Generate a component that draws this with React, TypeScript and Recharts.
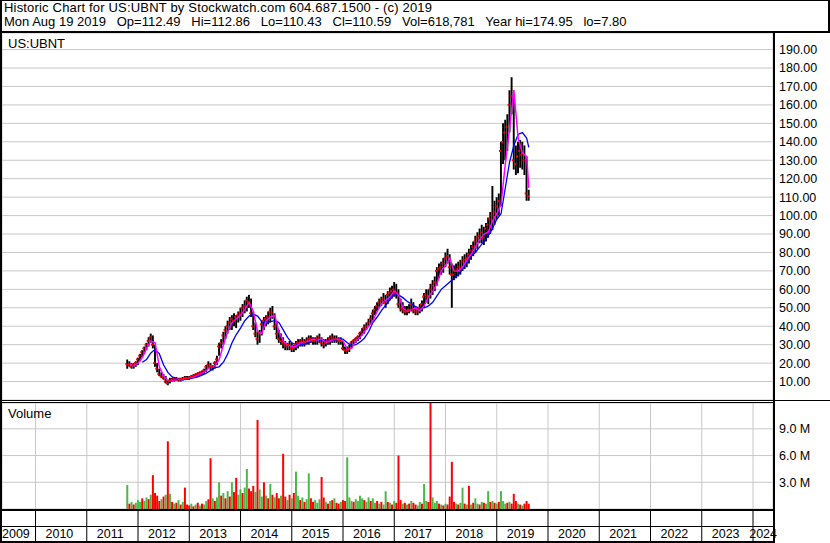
import React from "react";
import {
  ComposedChart,
  Bar,
  Line,
  Scatter,
  XAxis,
  YAxis,
  CartesianGrid,
  Cell,
} from "recharts";

// half-month bars, from the 2nd half of Oct 2011 to the 2nd half of Aug 2019
const FIRST_YEAR = 2011;
const FIRST_MONTH = 9.5;

const priceHi = [
  22, 21, 20, 20, 21,
  23, 25, 27, 29, 31, 34, 36, 35, 30, 20, 17, 15, 14, 13, 11, 12, 12, 12.5, 12.5, 12, 12, 12.5, 13, 13,
  13, 13.5, 14, 14.5, 15, 15.5, 16, 17, 19, 21, 20, 19, 21, 24, 31, 33, 37, 40, 43, 45, 46, 47, 46, 48,
  50, 52, 54, 56, 57, 55, 48, 42, 37, 38, 43, 45, 46, 48, 50, 51, 47, 42, 38, 36, 34, 32, 31, 32,
  31, 30, 32, 33, 33, 34, 33, 34, 35, 35, 34, 34, 35, 36, 34, 33, 33, 34, 35, 36, 35, 35, 34, 34,
  32, 29, 29, 30, 32, 33, 34, 35, 37, 39, 41, 42, 44, 46, 49, 51, 53, 55, 56, 58, 57, 59, 61, 62,
  64, 63, 60, 55, 53, 51, 51, 52, 55, 53, 51, 50, 52, 54, 58, 60, 60, 63, 65, 67, 72, 74, 75, 77,
  80, 82, 79, 74, 73, 74, 75, 76, 78, 79, 80, 82, 84, 86, 89, 91, 93, 95, 94, 96, 99, 102, 116, 108,
  110, 112, 140, 150, 152, 155, 168, 175, 165, 138, 140, 141, 140, 138, 132, 114,
];

const priceLo = [
  17, 18, 17, 17, 18,
  19, 21, 23, 25, 27, 29, 31, 28, 18, 15, 13, 12, 11, 9, 8, 9, 10, 10, 10.5, 10, 10, 10.5, 11, 11,
  11, 11.5, 12, 12, 12.5, 13, 13.5, 14, 15, 17, 16, 16, 17, 19, 24, 28, 30, 33, 36, 38, 38, 40, 39, 42,
  43, 45, 47, 48, 50, 45, 38, 34, 30, 31, 35, 38, 40, 41, 42, 44, 38, 33, 31, 30, 28, 27, 27, 27,
  26, 26, 27, 28, 29, 29, 29, 30, 30, 31, 30, 30, 30, 31, 29, 28, 29, 30, 30, 31, 31, 31, 30, 30,
  27, 25, 25, 26, 28, 30, 31, 32, 33, 35, 36, 38, 40, 41, 43, 46, 48, 50, 51, 52, 50, 52, 54, 55,
  56, 55, 50, 48, 47, 46, 46, 47, 48, 47, 46, 46, 47, 48, 50, 53, 52, 55, 57, 59, 62, 66, 68, 69,
  72, 74, 68, 50, 65, 66, 67, 68, 70, 71, 72, 74, 76, 78, 80, 82, 85, 85, 84, 86, 88, 90, 92, 95,
  98, 100, 105, 128, 130, 135, 145, 155, 125, 122, 123, 126, 125, 122, 108, 108,
];

const priceCl = [
  19.5, 19, 18, 19, 20,
  22, 24, 26, 28, 30, 32, 34, 30, 20, 17, 14, 13, 12, 10, 9, 10.5, 11, 11.5, 11, 11, 11.5, 11.5, 12, 12,
  12, 12.5, 13, 13.5, 14, 14.5, 15, 16, 18, 19, 18, 18, 20, 22, 29, 31, 35, 38, 40, 42, 44, 43, 45, 46,
  47, 50, 51, 54, 53, 47, 40, 36, 33, 36, 41, 43, 44, 45, 48, 47, 40, 36, 33, 32, 31, 30, 29, 30,
  28, 28, 30, 31, 31, 32, 31, 32, 33, 33, 32, 32, 33, 34, 31, 30, 31, 32, 33, 34, 33, 33, 32, 32,
  28, 27, 27, 28, 31, 32, 33, 34, 36, 37, 39, 40, 42, 44, 47, 49, 51, 53, 54, 55, 53, 57, 58, 59,
  60, 58, 52, 50, 49, 48, 48, 49, 52, 49, 48, 48, 50, 52, 56, 57, 56, 60, 62, 64, 70, 71, 72, 74,
  77, 78, 72, 68, 68, 70, 71, 72, 75, 76, 77, 79, 81, 83, 86, 88, 89, 91, 88, 93, 95, 98, 100, 102,
  105, 108, 135, 140, 145, 148, 160, 165, 130, 128, 132, 135, 133, 130, 112, 110.6,
];

// volume in millions
const volumeM = [
  2.7, 0.6, 0.8, 0.5, 0.7,
  1.0, 0.8, 1.2, 0.9, 1.3, 1.1, 1.6, 3.8, 1.8, 1.5, 0.9, 1.1, 1.4, 1.6, 7.6, 1.7, 0.8, 0.6, 0.7, 1.0, 0.5, 0.8, 2.4, 0.5,
  0.4, 0.6, 0.3, 0.5, 0.7, 0.4, 0.6, 0.5, 0.9, 1.1, 5.7, 1.2, 0.9, 1.3, 3.0, 1.5, 1.8, 1.2, 2.0, 1.4, 3.0, 1.9, 3.5, 1.6,
  2.2, 1.8, 2.4, 4.5, 2.3, 2.0, 2.6, 1.9, 10.0, 2.2, 1.4, 3.0, 1.5, 1.2, 2.8, 1.6, 1.3, 1.8, 1.2, 1.5, 6.2, 1.4, 1.0, 1.6,
  1.2, 1.8, 4.2, 1.5, 1.0, 1.3, 0.8, 1.1, 4.0, 1.2, 0.8, 1.0, 0.7, 1.1, 3.6, 1.3, 0.8, 0.6, 0.9, 1.0, 1.2, 0.7, 0.6, 0.8,
  1.0, 0.9, 5.8, 1.3, 0.9, 0.8, 1.1, 0.9, 1.5, 1.2, 1.0, 0.8, 1.3, 0.9, 1.2, 0.7, 0.9, 0.6, 0.8, 0.5, 2.0, 0.8, 0.7, 0.5,
  0.9, 0.7, 6.0, 1.0, 0.6, 0.7, 0.5, 0.6, 0.9, 0.7, 0.5, 0.4, 0.8, 0.6, 2.8, 0.9, 0.8, 12.2, 1.3, 0.7, 0.9, 0.6, 0.5, 0.4,
  0.6, 0.5, 1.4, 5.3, 0.8, 0.6, 0.5, 0.7, 2.4, 0.6, 0.5, 2.6, 0.5, 0.7, 1.2, 0.6, 0.5, 0.8, 0.7, 0.6, 2.0, 0.8, 0.9, 0.7,
  0.6, 0.8, 2.0, 0.9, 0.6, 0.7, 0.8, 0.6, 1.7, 0.9, 0.6, 0.5, 0.4, 0.6, 0.9, 0.6,
];

// g = up (green), d = down (red)
const volumeDir = [
  "gdgdg",
  "ggdggdgddddgdgdgdgdgdgdd",
  "dgdgdgdggddgdggdgdgdgddg",
  "gdggdddgdggdgdgdgddgddgd",
  "gdggdgdggddgggddgdgdgddg",
  "ddgggdggggdggdggdgdggdgd",
  "gdddgdgdgddggdggddgggdgd",
  "gddddgdggdgdgdggdgdggdgd",
  "gdgggdgdddgdgddd",
].join("");

// moving averages read monthly, Nov 2011 .. Aug 2019, last value on Aug 19 2019
const maShort = [
  19.5, 18.5,
  20, 23, 28, 32, 31, 18, 13, 10.5, 10.5, 11.2, 11, 11.5,
  12, 12.5, 13.5, 14.5, 16, 18.5, 18.5, 22, 30, 37, 42, 44,
  46, 49, 53, 48, 37, 36, 43, 45, 46, 37, 32, 30,
  29, 29, 31, 31.5, 32, 33, 32.5, 33, 31, 32, 33, 33,
  32, 27.5, 28, 32, 34, 37, 40, 43, 48, 52, 54, 56,
  59, 57, 50, 48, 49, 50, 48.5, 51, 56, 59, 63, 70,
  73, 77, 70, 70, 72, 76, 79, 83, 87, 90, 91, 97,
  101, 106, 128, 147, 168, 142, 134, 132, 115,
];

const maLong = [
  null, null,
  null, 20.5, 22, 25.5, 27.5, 25, 19, 15, 12.5, 11.5, 11, 11,
  11.5, 12, 12.5, 13.5, 14.5, 16, 17.5, 18, 20.5, 25, 31, 35.5,
  39, 43, 45.5, 46.5, 45.5, 42.5, 42, 42.5, 43, 42, 38, 34,
  31, 30, 30, 30.5, 31, 32, 32.5, 32.5, 32, 32, 32.5, 33,
  33, 31, 29.5, 30, 31.5, 33.5, 37, 42, 45, 48.5, 51.5, 54.5,
  57, 57, 55.5, 53.5, 52, 50.5, 50, 50, 51, 53, 56.5, 60,
  62, 64, 66, 68, 71, 75, 78, 80, 83, 86, 89, 93,
  98, 101, 115, 129, 138, 144, 145, 142, 137,
];

const yearTicks = [2010, 2011, 2012, 2013, 2014, 2015, 2016, 2017, 2018, 2019, 2020, 2021, 2022, 2023, 2024];
const priceTicks = [10, 20, 30, 40, 50, 60, 70, 80, 90, 100, 110, 120, 130, 140, 150, 160, 170, 180, 190];
const volumeTicks = [3, 6, 9];

const X_DOMAIN: [number, number] = [2009.346, 2024.39];
const FONT = "Arial, 'Liberation Sans', sans-serif";
const GRID = "#c8c8c8";
const UP = "#4cb848";
const DOWN = "#ff0000";

const rows = priceHi.map((hi, i) => {
  const k = i % 2 === 1 ? (i - 1) / 2 : i === priceHi.length - 1 ? maShort.length - 1 : -1;
  return {
    t: FIRST_YEAR + (FIRST_MONTH + i / 2) / 12,
    range: [priceLo[i], hi],
    cl: priceCl[i],
    vol: volumeM[i],
    up: volumeDir[i] === "g",
    maShort: k >= 0 ? maShort[k] : null,
    maLong: k >= 0 ? maLong[k] : null,
  };
});

const CloseMark = (p: any) => (
  <rect x={p.cx - 2} y={p.cy - 1} width={2} height={2} fill={DOWN} />
);

function YearTick(props: any) {
  const { x, y, payload, index } = props;
  const last = index === yearTicks.length - 1;
  const style = { fontSize: 12.5, fontFamily: FONT, fill: "#000" };
  return (
    <g>
      <line x1={x} x2={x} y1={y} y2={y + 34} stroke="#000" />
      {index === 0 && (
        <text x={2} y={y + 29} {...style}>
          {payload.value - 1}
        </text>
      )}
      <text x={last ? 777 : x + 10} y={y + 29} textAnchor={last ? "end" : "start"} {...style}>
        {payload.value}
      </text>
    </g>
  );
}

const hLine = (top: number, left: number, width: number, h = 1) => (
  <div style={{ position: "absolute", top, left, width, height: h, background: "#000" }} />
);
const vLine = (left: number, top: number, height: number, w = 1) => (
  <div style={{ position: "absolute", top, left, width: w, height, background: "#000" }} />
);

export default function App() {
  const tickStyle = { fontSize: 12.5, fontFamily: FONT, fill: "#000" };
  return (
    <div style={{ position: "relative", width: 830, height: 543, background: "#fff", fontFamily: FONT, overflow: "hidden" }}>
      <style>{`body{margin:0}`}</style>

      <div style={{ position: "absolute", top: 1, left: 4, fontSize: 13, lineHeight: "14px", whiteSpace: "pre", letterSpacing: 0.18 }}>
        {"Historic Chart for US:UBNT by Stockwatch.com 604.687.1500 - (c) 2019"}
      </div>
      <div style={{ position: "absolute", top: 15, left: 4, fontSize: 13, lineHeight: "14px", whiteSpace: "pre" }}>
        {"Mon Aug 19 2019   Op=112.49   Hi=112.86   Lo=110.43   Cl=110.59   Vol=618,781   Year hi=174.95   lo=7.80"}
      </div>

      <div style={{ position: "absolute", top: 33, left: 0 }}>
        <ComposedChart width={830} height={367} data={rows} margin={{ top: 0, right: 0, bottom: 0, left: 2 }}>
          <CartesianGrid stroke={GRID} />
          <XAxis
            type="number"
            dataKey="t"
            domain={X_DOMAIN}
            ticks={yearTicks}
            allowDataOverflow
            height={0}
            tick={false}
            axisLine={false}
            tickLine={false}
          />
          <YAxis
            orientation="right"
            domain={[0, 199]}
            ticks={priceTicks}
            interval={0}
            width={57}
            axisLine={false}
            tickLine={false}
            tickSize={4}
            tickMargin={2}
            tick={tickStyle}
            tickFormatter={(v: number) => v.toFixed(2)}
          />
          <Bar dataKey="range" fill="#000" barSize={3} isAnimationActive={false} />
          <Scatter dataKey="cl" shape={CloseMark} isAnimationActive={false} />
          <Line type="linear" dataKey="maLong" stroke="#0000ff" strokeWidth={1.3} dot={false} connectNulls isAnimationActive={false} />
          <Line type="linear" dataKey="maShort" stroke="#ff00ff" strokeWidth={1.5} dot={false} connectNulls isAnimationActive={false} />
        </ComposedChart>
      </div>

      <div style={{ position: "absolute", top: 403, left: 0 }}>
        <ComposedChart width={830} height={140} data={rows} margin={{ top: 0, right: 0, bottom: 0, left: 2 }}>
          <CartesianGrid stroke={GRID} />
          <XAxis
            type="number"
            dataKey="t"
            domain={X_DOMAIN}
            ticks={yearTicks}
            interval={0}
            allowDataOverflow
            height={34}
            axisLine={false}
            tickLine={false}
            tickSize={0}
            tickMargin={0}
            tick={<YearTick />}
          />
          <YAxis
            orientation="right"
            domain={[0, 11.9]}
            ticks={volumeTicks}
            interval={0}
            allowDataOverflow
            width={57}
            axisLine={false}
            tickLine={false}
            tickSize={4}
            tickMargin={2}
            tick={tickStyle}
            tickFormatter={(v: number) => v.toFixed(1) + " M"}
          />
          <Bar dataKey="vol" barSize={2} isAnimationActive={false}>
            {rows.map((r, i) => (
              <Cell key={i} fill={r.up ? UP : DOWN} />
            ))}
          </Bar>
        </ComposedChart>
      </div>

      <div style={{ position: "absolute", top: 36, left: 8, fontSize: 13 }}>US:UBNT</div>
      <div style={{ position: "absolute", top: 406, left: 8, fontSize: 13 }}>Volume</div>

      {hLine(0, 0, 830)}
      {vLine(0, 0, 543, 2)}
      {vLine(828, 0, 33, 2)}
      {hLine(31, 0, 830, 2)}
      {vLine(773, 31, 512, 2)}
      {hLine(400, 0, 830)}
      {hLine(402, 0, 775)}
      {hLine(509, 0, 775, 2)}
      {hLine(526, 0, 775)}
      {hLine(541, 0, 775, 2)}
    </div>
  );
}
